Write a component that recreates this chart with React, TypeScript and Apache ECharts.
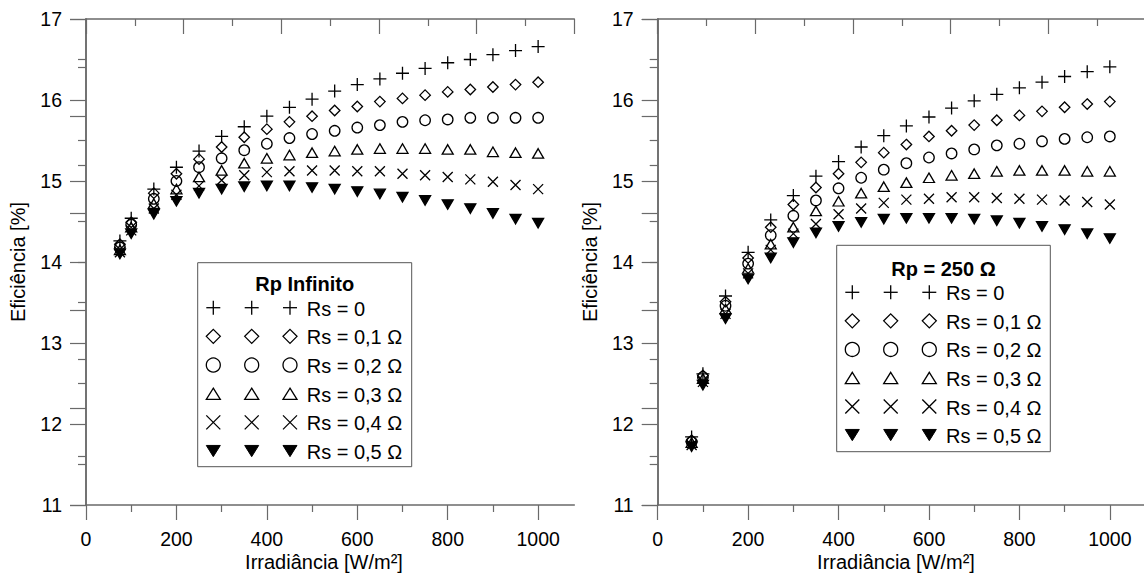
import React, { useEffect, useRef } from "react";
import * as echarts from "echarts";

// ---------- data ----------
const irradiance = [75, 100, 150, 200, 250, 300, 350, 400, 450, 500, 550, 600, 650, 700, 750, 800, 850, 900, 950, 1000];

// Rp infinito
const rpInfRs0 = [14.26, 14.54, 14.90, 15.17, 15.37, 15.55, 15.67, 15.80, 15.91, 16.01, 16.11, 16.19, 16.26, 16.33, 16.39, 16.46, 16.50, 16.56, 16.61, 16.66];
const rpInfRs01 = [14.22, 14.49, 14.85, 15.09, 15.27, 15.42, 15.54, 15.64, 15.73, 15.80, 15.87, 15.92, 15.98, 16.02, 16.06, 16.10, 16.13, 16.16, 16.19, 16.22];
const rpInfRs02 = [14.18, 14.46, 14.78, 15.00, 15.17, 15.28, 15.38, 15.46, 15.53, 15.58, 15.62, 15.66, 15.69, 15.73, 15.75, 15.76, 15.78, 15.78, 15.78, 15.78];
const rpInfRs03 = [14.15, 14.43, 14.72, 14.90, 15.05, 15.13, 15.22, 15.28, 15.32, 15.35, 15.37, 15.39, 15.40, 15.40, 15.40, 15.39, 15.39, 15.36, 15.35, 15.34];
const rpInfRs04 = [14.12, 14.39, 14.66, 14.83, 14.94, 15.01, 15.07, 15.11, 15.12, 15.13, 15.13, 15.12, 15.12, 15.09, 15.07, 15.05, 15.02, 14.99, 14.95, 14.90];
const rpInfRs05 = [14.10, 14.35, 14.59, 14.75, 14.85, 14.90, 14.93, 14.94, 14.94, 14.92, 14.90, 14.87, 14.84, 14.80, 14.76, 14.71, 14.66, 14.60, 14.53, 14.48];

// Rp = 250 ohm
const rp250Rs0 = [11.84, 12.62, 13.58, 14.12, 14.52, 14.82, 15.06, 15.24, 15.42, 15.56, 15.68, 15.79, 15.90, 15.99, 16.07, 16.15, 16.22, 16.29, 16.35, 16.41];
const rp250Rs01 = [11.80, 12.60, 13.51, 14.05, 14.43, 14.71, 14.92, 15.09, 15.23, 15.35, 15.45, 15.55, 15.62, 15.69, 15.75, 15.81, 15.86, 15.91, 15.95, 15.98];
const rp250Rs02 = [11.78, 12.58, 13.46, 13.98, 14.33, 14.57, 14.76, 14.91, 15.04, 15.14, 15.22, 15.29, 15.34, 15.39, 15.44, 15.46, 15.49, 15.52, 15.54, 15.55];
const rp250Rs03 = [11.77, 12.56, 13.42, 13.92, 14.22, 14.43, 14.63, 14.75, 14.85, 14.93, 14.98, 15.04, 15.07, 15.09, 15.12, 15.13, 15.13, 15.13, 15.12, 15.12];
const rp250Rs04 = [11.74, 12.52, 13.36, 13.86, 14.15, 14.35, 14.47, 14.59, 14.66, 14.73, 14.77, 14.78, 14.80, 14.80, 14.79, 14.78, 14.77, 14.76, 14.74, 14.71];
const rp250Rs05 = [11.72, 12.48, 13.30, 13.79, 14.05, 14.24, 14.36, 14.44, 14.49, 14.53, 14.54, 14.54, 14.54, 14.53, 14.51, 14.48, 14.44, 14.40, 14.35, 14.29];

const seriesLabels = ["Rs = 0", "Rs = 0,1 Ω", "Rs = 0,2 Ω", "Rs = 0,3 Ω", "Rs = 0,4 Ω", "Rs = 0,5 Ω"];
const legendTitles = ["Rp Infinito", "Rp = 250 Ω"];
const xTickValues = [0, 200, 400, 600, 800, 1000];
const xMinorValues = [100, 300, 500, 700, 900];
const xTitle = "Irradiância [W/m²]";
const yTitle = "Eficiência [%]";

const leftSets = [rpInfRs0, rpInfRs01, rpInfRs02, rpInfRs03, rpInfRs04, rpInfRs05];
const rightSets = [rp250Rs0, rp250Rs01, rp250Rs02, rp250Rs03, rp250Rs04, rp250Rs05];

// ---------- styling ----------
const FONT = "'Liberation Sans', Arial, Helvetica, sans-serif";
const AXIS = "#6a6a6a";
const kinds = ["plus", "diamond", "circle", "triangle", "cross", "tridown"];

const markerSpec: Record<string, any> = {
  plus: { symbol: "path://M0,-10V10M-10,0H10", symbolSize: 13, fill: "rgba(0,0,0,0)" },
  diamond: { symbol: "diamond", symbolSize: [10.5, 10.5], fill: "rgba(0,0,0,0)" },
  circle: { symbol: "circle", symbolSize: 10.5, fill: "rgba(0,0,0,0)" },
  triangle: { symbol: "triangle", symbolSize: [11, 9.5], fill: "rgba(0,0,0,0)" },
  cross: { symbol: "path://M-10,-10L10,10M-10,10L10,-10", symbolSize: 10, fill: "rgba(0,0,0,0)" },
  tridown: { symbol: "triangle", symbolSize: [11, 9.5], fill: "#000", rotate: 180 },
};

const grids = [
  { left: 86, top: 19, width: 488.3, height: 486 },
  { left: 657.7, top: 19, width: 488.3, height: 486 },
];

function legendSymbol(kind: string, cx: number, cy: number, s: number) {
  const h = s / 2;
  const st = { stroke: "#000", lineWidth: 1.3, fill: "none" };
  const z = 101;
  switch (kind) {
    case "plus":
      return [
        { type: "line", z, shape: { x1: cx - h, y1: cy, x2: cx + h, y2: cy }, style: st },
        { type: "line", z, shape: { x1: cx, y1: cy - h, x2: cx, y2: cy + h }, style: st },
      ];
    case "diamond":
      return [{ type: "polygon", z, shape: { points: [[cx, cy - h], [cx + h, cy], [cx, cy + h], [cx - h, cy]] }, style: st }];
    case "circle":
      return [{ type: "circle", z, shape: { cx, cy, r: h }, style: st }];
    case "triangle":
      return [{ type: "polygon", z, shape: { points: [[cx, cy - h * 0.8], [cx + h, cy + h * 0.8], [cx - h, cy + h * 0.8]] }, style: st }];
    case "cross":
      return [
        { type: "line", z, shape: { x1: cx - h, y1: cy - h, x2: cx + h, y2: cy + h }, style: st },
        { type: "line", z, shape: { x1: cx - h, y1: cy + h, x2: cx + h, y2: cy - h }, style: st },
      ];
    default:
      return [{ type: "polygon", z, shape: { points: [[cx - h, cy - h * 0.8], [cx + h, cy - h * 0.8], [cx, cy + h * 0.8]] }, style: { fill: "#000", stroke: "#000", lineWidth: 1 } }];
  }
}

function buildLegend(box: any, title: string) {
  const els: any[] = [];
  els.push({
    type: "rect", z: 100,
    shape: { x: box.x, y: box.y, width: box.w, height: box.h },
    style: { fill: "#fff", stroke: "#555", lineWidth: 1 },
  });
  els.push({
    type: "text", z: 101, x: box.x + box.w / 2, y: box.titleY,
    style: { text: title, fontFamily: FONT, fontSize: 20, fontWeight: "bold", fill: "#000", align: "center", verticalAlign: "middle" },
  });
  kinds.forEach((k, r) => {
    const cy = box.rowY0 + r * box.rowStep;
    box.symX.forEach((sx: number) => els.push(...legendSymbol(k, sx, cy, 14)));
    els.push({
      type: "text", z: 101, x: box.textX, y: cy + 1,
      style: { text: seriesLabels[r], fontFamily: FONT, fontSize: 20, fill: "#000", align: "left", verticalAlign: "middle" },
    });
  });
  return els;
}

export default function App() {
  const ref = useRef<HTMLDivElement>(null);
  useEffect(() => {
    if (!ref.current) return;
    const chart = echarts.init(ref.current, undefined, { renderer: "svg" });

    const xAxis: any[] = [];
    const yAxis: any[] = [];
    grids.forEach((_, g) => {
      xAxis.push({
        gridIndex: g, type: "value", min: 0, max: 1080, interval: 200, position: "bottom",
        axisLine: { show: true, lineStyle: { color: AXIS, width: 1.5 } },
        axisTick: { show: true, inside: false, length: 15, customValues: xTickValues, lineStyle: { color: AXIS, width: 1.2 } },
        axisLabel: { show: true, customValues: xTickValues, formatter: (v: number) => String(v), fontSize: 19.5, fontFamily: FONT, color: "#000", margin: 24 },
        splitLine: { show: false },
      });
      xAxis.push({
        gridIndex: g, type: "value", min: 0, max: 1080, position: "bottom",
        axisLine: { show: false },
        axisTick: { show: true, inside: false, length: 7, customValues: xMinorValues, lineStyle: { color: AXIS, width: 1.2 } },
        axisLabel: { show: false },
        splitLine: { show: false },
      });
      xAxis.push({
        gridIndex: g, type: "value", min: 0, max: 5, interval: 1, position: "top",
        axisLine: { show: true, lineStyle: { color: AXIS, width: 1.5 } },
        axisTick: { show: true, inside: true, length: 15, lineStyle: { color: AXIS, width: 1.2 } },
        minorTick: { show: true, splitNumber: 2, length: 7, lineStyle: { color: AXIS, width: 1.2 } },
        axisLabel: { show: false },
        splitLine: { show: false },
      });
      yAxis.push({
        gridIndex: g, type: "value", min: 11, max: 17, interval: 1, position: "left",
        axisLine: { show: true, lineStyle: { color: AXIS, width: 1.5 } },
        axisTick: { show: true, inside: false, length: 16, lineStyle: { color: AXIS, width: 1.2 } },
        minorTick: { show: true, splitNumber: 2, length: 8, lineStyle: { color: AXIS, width: 1.2 } },
        axisLabel: { show: true, formatter: (v: number) => String(v), fontSize: 19.5, fontFamily: FONT, color: "#000", margin: 24 },
        splitLine: { show: false },
      });
      yAxis.push({
        gridIndex: g, type: "value", min: 0, max: 5, interval: 1, position: "right",
        axisLine: { show: true, lineStyle: { color: AXIS, width: 1.5 } },
        axisTick: { show: true, inside: true, length: 16, lineStyle: { color: AXIS, width: 1.2 } },
        minorTick: { show: true, splitNumber: 2, length: 8, lineStyle: { color: AXIS, width: 1.2 } },
        axisLabel: { show: false },
        splitLine: { show: false },
      });
    });

    const series: any[] = [];
    [leftSets, rightSets].forEach((sets, g) => {
      sets.forEach((vals, i) => {
        const m = markerSpec[kinds[i]];
        series.push({
          type: "scatter",
          name: `${legendTitles[g]} ${seriesLabels[i]}`,
          xAxisIndex: g * 3,
          yAxisIndex: g * 2,
          symbol: m.symbol,
          symbolSize: m.symbolSize,
          symbolRotate: m.rotate || 0,
          itemStyle: { color: m.fill, borderColor: "#000", borderWidth: 1.3, opacity: 1 },
          data: irradiance.map((x, j) => [x, vals[j]]),
          z: 5,
        });
      });
    });

    const graphic: any[] = [
      ...buildLegend({ x: 197.7, y: 262.7, w: 214, h: 204, titleY: 283.5, rowY0: 307.7, rowStep: 28.67, symX: [213.3, 251.7, 290], textX: 306.7 }, legendTitles[0]),
      ...buildLegend({ x: 836.7, y: 245.3, w: 213.6, h: 206.4, titleY: 268.5, rowY0: 292.3, rowStep: 28.55, symX: [852.3, 890.7, 929.3], textX: 946 }, legendTitles[1]),
      { type: "text", z: 101, x: 324, y: 561.5, style: { text: xTitle, fontFamily: FONT, fontSize: 20, fill: "#000", align: "center", verticalAlign: "middle" } },
      { type: "text", z: 101, x: 896, y: 561.5, style: { text: xTitle, fontFamily: FONT, fontSize: 20, fill: "#000", align: "center", verticalAlign: "middle" } },
      { type: "text", z: 101, x: 18, y: 262, rotation: Math.PI / 2, style: { text: yTitle, fontFamily: FONT, fontSize: 20, fill: "#000", align: "center", verticalAlign: "middle" } },
      { type: "text", z: 101, x: 590, y: 262, rotation: Math.PI / 2, style: { text: yTitle, fontFamily: FONT, fontSize: 20, fill: "#000", align: "center", verticalAlign: "middle" } },
    ];

    chart.setOption({
      animation: false,
      backgroundColor: "#fff",
      textStyle: { fontFamily: FONT },
      grid: grids.map((g) => ({ ...g, containLabel: false, outerBoundsMode: "none" })),
      xAxis,
      yAxis,
      series,
      graphic,
    });
    return () => chart.dispose();
  }, []);

  return (
    <div
      ref={ref}
      style={{ position: "fixed", left: 0, top: 0, width: 1144, height: 575, background: "#fff" }}
    />
  );
}
